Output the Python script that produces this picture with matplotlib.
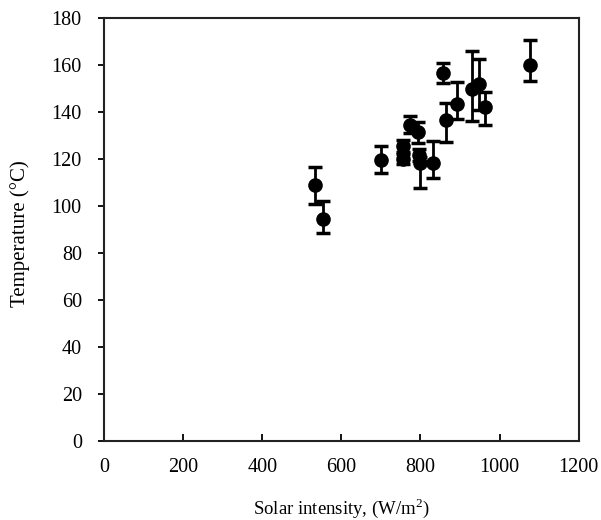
# coding: utf-8

import numpy as np
import matplotlib.pyplot as plt

# solar intensity (W/m2), temperature (C) and whisker ends
solar = [533, 554, 701, 756, 756, 773, 794, 796, 800, 832, 857, 865, 891, 931, 949, 962, 1076]
temp = [109, 94.5, 119.6, 125.5, 120, 134.5, 131.6, 121.7, 118.2, 118.4, 156.7, 136.6, 143.4, 150, 151.9, 142, 160]
temp_hi = [116.5, 102.3, 125.7, 128, 122, 138.4, 135.9, 124.5, 121, 127.8, 161.1, 144, 152.9, 166.1, 162.6, 148.7, 170.6]
temp_lo = [101, 88.4, 114.2, 123, 118, 131, 127, 119, 107.5, 112, 152.5, 127.2, 136.9, 136.3, 141, 134.5, 153.2]

x_ticks = [0, 200, 400, 600, 800, 1000, 1200]
y_ticks = [0, 20, 40, 60, 80, 100, 120, 140, 160, 180]


def plot_data(ax):
    t = np.array(temp)
    yerr = [t - np.array(temp_lo), np.array(temp_hi) - t]
    ax.errorbar(solar, temp, yerr=yerr, fmt='o', color='black',
                markersize=9.5, elinewidth=2, capsize=4.8, capthick=2.5)
    return


def arrange_plot(ax):
    ax.set_xlim(0, 1200)
    ax.set_ylim(0, 180)
    ax.set_xticks(x_ticks)
    ax.set_yticks(y_ticks)
    ax.tick_params(axis='x', direction='in', length=5, width=1.3, pad=12, labelsize=14.5)
    ax.tick_params(axis='y', direction='out', length=4, width=1.3, pad=12, labelsize=14.5)
    for sp in ax.spines.values():
        sp.set_linewidth(1.5)
        sp.set_color('#222222')
    ax.set_xlabel('Solar intensity, (W/m$^2$)', fontsize=13.5, va='center')
    ax.set_ylabel('Temperature (°C)', fontsize=15, va='center')
    ax.xaxis.set_label_coords(0.5, -0.158)
    ax.yaxis.set_label_coords(-0.177, 0.49)
    return


def main():
    plt.rcParams['font.family'] = ['Liberation Serif', 'DejaVu Serif']
    plt.rcParams['mathtext.fontset'] = 'custom'
    plt.rcParams['mathtext.rm'] = 'Liberation Serif'
    fig = plt.figure(figsize=(6.01, 5.2), dpi=100)
    ax = fig.add_axes([0.173, 0.152, 0.79, 0.813])
    plot_data(ax)
    arrange_plot(ax)
    fig.savefig('out.png', dpi=100)
    return


if __name__ == "__main__":
    main()
